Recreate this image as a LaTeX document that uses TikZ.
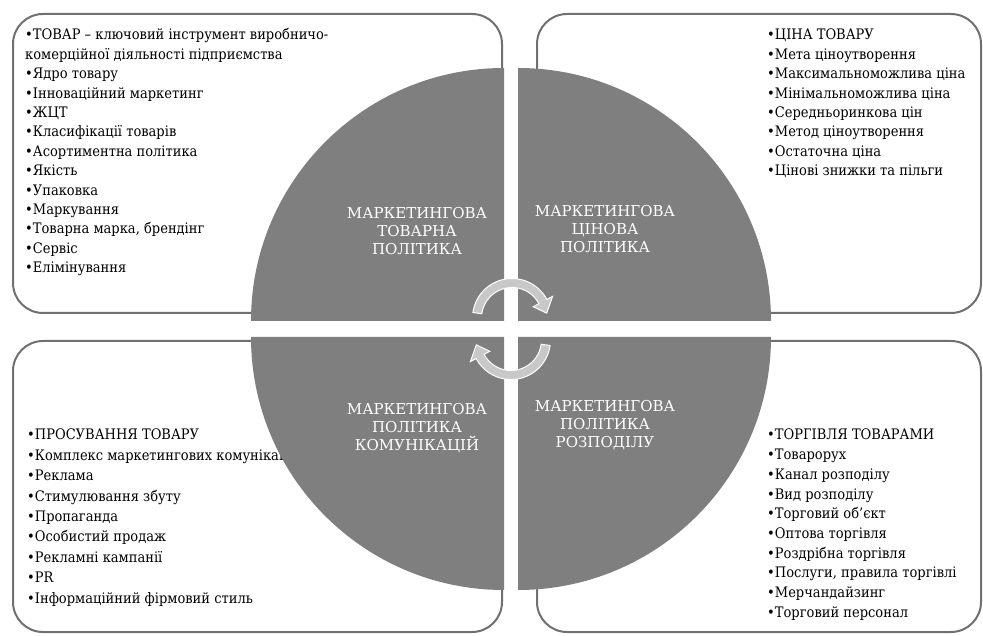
\documentclass[tikz,border=0pt]{standalone}
\usepackage{fontspec}
\setmainfont{DejaVu Serif}
\newfontfamily\mkserif[FakeStretch=0.9]{DejaVu Serif}
\newfontfamily\mktitle{DejaVu Serif}
\usepackage{tikz}
\definecolor{mkgray}{RGB}{127,127,127}
\definecolor{mkframe}{RGB}{112,112,112}
\definecolor{mkarrow}{RGB}{200,200,200}
\tikzstyle{listbox} = [draw=mkframe, line width=2pt, fill=white, rounded corners=30pt]
\tikzstyle{quarter} = [fill=mkgray]
\tikzstyle{listitem} = [anchor=base west, inner sep=0pt, font=\mkserif\fontsize{14.5}{19.4}\selectfont]
\tikzstyle{sectortext} = [align=center, text=white, inner sep=0pt, font=\mktitle\fontsize{15}{18}\selectfont]
\tikzstyle{cyclearrow} = [fill=mkarrow, draw=white, line width=1pt]

\begin{document}
\begin{tikzpicture}[x=1pt, y=1pt]
\useasboundingbox (0,0) rectangle (983,635);

% Frames behind the circle
\draw[listbox] (13,322) rectangle (502,621);
\draw[listbox] (537,322) rectangle (981,621);
\draw[listbox] (13,3) rectangle (502,294);
\draw[listbox] (537,3) rectangle (981,294);

% Lists
\foreach \txt [count=\i from 0] in {•ТОВАР – ключовий інструмент виробничо-, комерційної діяльності підприємства, •Ядро товару, •Інноваційний маркетинг, •ЖЦТ, •Класифікації товарів, •Асортиментна політика, •Якість, •Упаковка, •Маркування, {•Товарна марка, брендінг}, •Сервіс, •Елімінування}
  \node[listitem] (prod\i) at (25,{595-19.4*\i}) {\txt};
\foreach \txt [count=\i from 0] in {•ЦІНА ТОВАРУ, •Мета ціноутворення, •Максимальноможлива ціна, •Мінімальноможлива ціна, •Середньоринкова цін, •Метод ціноутворення, •Остаточна ціна, •Цінові знижки та пільги}
  \node[listitem] (price\i) at (767,{595-19.4*\i}) {\txt};
\foreach \txt [count=\i from 0] in {•ПРОСУВАННЯ ТОВАРУ, •Комплекс маркетингових комунікацій, •Реклама, •Стимулювання збуту, •Пропаганда, •Особистий продаж, •Рекламні кампанії, •PR, •Інформаційний фірмовий стиль}
  \node[listitem] (promo\i) at (27,{195-20.4*\i}) {\txt};
\foreach \txt [count=\i from 0] in {•ТОРГІВЛЯ ТОВАРАМИ, •Товарорух, •Канал розподілу, •Вид розподілу, •Торговий об’єкт, •Оптова торгівля, •Роздрібна торгівля, {•Послуги, правила торгівлі}, •Мерчандайзинг, •Торговий персонал}
  \node[listitem] (place\i) at (767,{195-19.7*\i}) {\txt};

% Circle quarters
\fill[quarter] (504,314) -- (251,314) arc[start angle=180, end angle=90, radius=253] -- cycle;
\fill[quarter] (518,314) -- (518,567) arc[start angle=90, end angle=0, radius=253] -- cycle;
\fill[quarter] (504,298) -- (251,298) arc[start angle=180, end angle=270, radius=253] -- cycle;
\fill[quarter] (518,298) -- (771,298) arc[start angle=0, end angle=-90, radius=253] -- cycle;

% Sector titles
\node[sectortext] (product) at (417,404) {МАРКЕТИНГОВА\\ТОВАРНА\\ПОЛІТИКА};
\node[sectortext] (price) at (605,406) {МАРКЕТИНГОВА\\ЦІНОВА\\ПОЛІТИКА};
\node[sectortext] (promotion) at (417,207) {МАРКЕТИНГОВА\\ПОЛІТИКА\\КОМУНІКАЦІЙ};
\node[sectortext] (placement) at (605,210) {МАРКЕТИНГОВА\\ПОЛІТИКА\\РОЗПОДІЛУ};

% Cycle arrows
\begin{scope}[shift={(512,317)}]
\filldraw[cyclearrow] (172:39.5) arc[start angle=172, end angle=28, radius=39.5]
  -- (28:46) -- (8:35) -- (28:24) -- (28:30.5)
  arc[start angle=28, end angle=172, radius=30.5] -- cycle;
\end{scope}
\begin{scope}[shift={(511,295)}]
\filldraw[cyclearrow] (-8:39.5) arc[start angle=-8, end angle=-152, radius=39.5]
  -- (-152:46) -- (-172:35) -- (-152:24) -- (-152:30.5)
  arc[start angle=-152, end angle=-8, radius=30.5] -- cycle;
\end{scope}
\end{tikzpicture}
\end{document}
